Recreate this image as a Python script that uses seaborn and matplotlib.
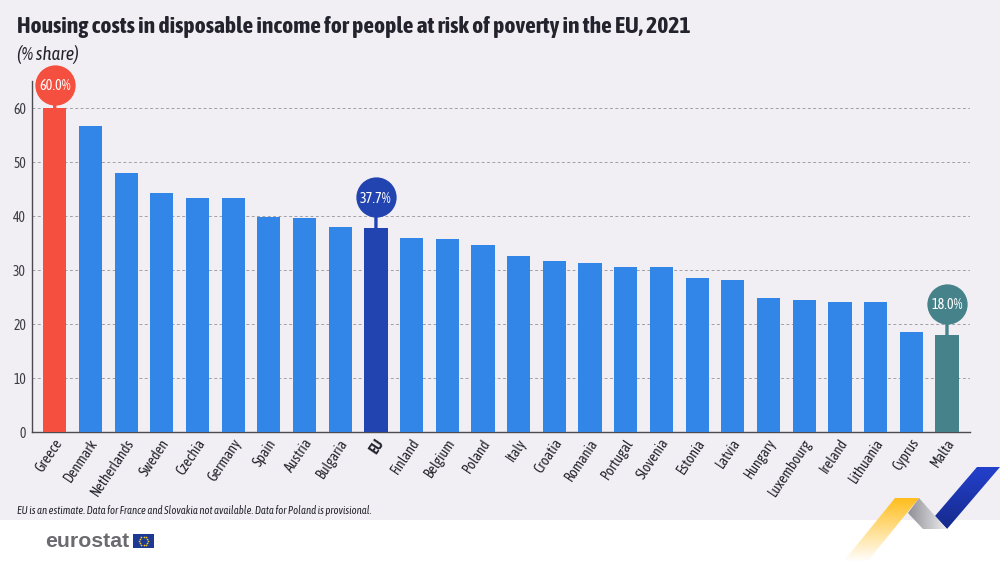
import numpy as np
import pandas as pd
import matplotlib
matplotlib.use("Agg")
import matplotlib.pyplot as plt
from matplotlib.patches import Polygon, Rectangle
from matplotlib.transforms import ScaledTranslation
import seaborn as sns

countries = ["Greece","Denmark","Netherlands","Sweden","Czechia","Germany","Spain","Austria","Bulgaria","EU",
             "Finland","Belgium","Poland","Italy","Croatia","Romania","Portugal","Slovenia","Estonia","Latvia",
             "Hungary","Luxembourg","Ireland","Lithuania","Cyprus","Malta"]
shares = [60.0,56.6,48.0,44.3,43.4,43.4,39.9,39.6,37.9,37.7,36.0,35.7,34.7,32.6,31.6,31.3,30.6,30.6,28.6,28.2,
          24.9,24.4,24.0,24.0,18.6,18.0]
y_ticks = [0,10,20,30,40,50,60]
highlights = {"Greece":"#f44f3f","EU":"#2244b0","Malta":"#46828a"}
bubble_offset_px = {"Greece":23.5,"EU":31,"Malta":31}
BAR = "#3186e8"
BG = "#f1eff3"

sns.set_theme(style="white")
plt.rcParams["font.family"] = ["Asap Condensed", "Roboto", "DejaVu Sans"]
DARK = "#23232d"

fig = plt.figure(figsize=(10,5.62), dpi=100, facecolor=BG)
W, H = 1000, 562
bg = fig.add_axes([0,0,1,1], zorder=0)
bg.set_xlim(0,W); bg.set_ylim(H,0); bg.axis("off")
bg.add_patch(Rectangle((0,520),W,42,color="white",lw=0))

def ribbon(pts, c0, c1, vertical=True, zorder=2):
    poly = Polygon(pts, closed=True, transform=bg.transData, fc="none", ec="none")
    bg.add_patch(poly)
    xs, ys = zip(*pts)
    c0 = np.array(matplotlib.colors.to_rgb(c0)); c1 = np.array(matplotlib.colors.to_rgb(c1))
    t = np.linspace(0,1,64)[:,None] if vertical else np.linspace(0,1,64)[None,:]
    img = c0*(1-t[...,None]) + c1*t[...,None]
    im = bg.imshow(img, extent=(min(xs),max(xs),max(ys),min(ys)), aspect="auto", zorder=zorder, interpolation="bilinear")
    im.set_clip_path(poly)

ribbon([(977,467),(1000,467),(947,529),(935,516)], "#2340cc", "#172a8c")
ribbon([(919,498),(935,516),(947,529),(923,529),(908,513)], "#8f8f96", "#eeeef0", vertical=False)
ribbon([(895,498),(919,498),(867,562),(843,562)], "#ffbe1e", "#ffffff")
bg.set_xlim(0,W); bg.set_ylim(H,0)

# logo
bg.text(45,541.5,"eurostat",family=["Liberation Sans","DejaVu Sans"],weight="bold",fontsize=15.3,color="#6a6a70",va="center",ha="left")
bg.add_patch(Rectangle((133,534),21,14,color="#1c3a94",lw=0))
ang = np.linspace(0,2*np.pi,12,endpoint=False)
bg.scatter(143.5+4.3*np.cos(ang),541+4.3*np.sin(ang),s=1.5,color="#f5c518",lw=0,zorder=3)

# chart
ax = fig.add_axes([32/W,1-432/H,(970-32)/W,(432-81)/H], zorder=1)
ax.patch.set_alpha(0)
df = pd.DataFrame({"country":countries,"share":shares})
palette = {c:highlights.get(c,BAR) for c in countries}
sns.barplot(data=df,x="country",y="share",hue="country",palette=palette,dodge=False,legend=False,
            width=0.65,saturation=1,linewidth=0,ax=ax,zorder=3)
ax.set_xlim(-0.637,25.645)
ax.set_ylim(0,65)
ax.set_xlabel(""); ax.set_ylabel("")
ax.set_yticks(y_ticks)
ax.tick_params(axis="y",length=0,pad=4.3,labelsize=9.8,labelcolor="#3c3c44")
ax.tick_params(axis="x",length=0,pad=6)
ax.yaxis.grid(True,ls=(0,(3,2.5)),lw=0.7,color="#a0a0a6",zorder=0)
ax.set_axisbelow(True)
ax.xaxis.grid(False)
for s in ("top","right"):
    ax.spines[s].set_visible(False)
for s in ("left","bottom"):
    ax.spines[s].set_color("#4a4a50"); ax.spines[s].set_linewidth(1.0)
ax.set_xticks(range(len(countries)))
ax.set_xticklabels(countries,rotation=56,ha="right",rotation_mode="anchor",fontsize=10.3,color=DARK)
for lab in ax.get_xticklabels():
    lab.set_transform(lab.get_transform()+ScaledTranslation(-1/100,4/100,fig.dpi_scale_trans))
    if lab.get_text()=="EU":
        lab.set_fontweight("bold")

# callouts
for c,col in highlights.items():
    i = countries.index(c); v = shares[i]
    px = bubble_offset_px[c]
    off = ax.transData + ScaledTranslation(0,px/100,fig.dpi_scale_trans)
    ax.annotate("",xy=(i,v),xytext=(0,px-5),textcoords="offset pixels",
                arrowprops=dict(arrowstyle="-",color=col,lw=2.4,shrinkA=0,shrinkB=0),zorder=5,annotation_clip=False)
    ax.plot([i],[v],marker="o",ms=29,color=col,mec="none",transform=off,clip_on=False,zorder=6)
    ax.text(i,v,f"{v:.1f}%",transform=off,ha="center",va="center_baseline",color="white",fontsize=10.3,zorder=7,clip_on=False)

# texts
bg.text(17,27,"Housing costs in disposable income for people at risk of poverty in the EU, 2021",
        fontsize=16.9,weight="bold",color=DARK,va="center",ha="left")
bg.text(17,54,"(% share)",fontsize=13.5,style="italic",color=DARK,va="center",ha="left")
bg.text(17,511,"EU is an estimate. Data for France and Slovakia not available. Data for Poland is provisional.",
        fontsize=7.7,style="italic",color=DARK,va="center",ha="left")

fig.savefig("out.png",dpi=100,facecolor=BG)
